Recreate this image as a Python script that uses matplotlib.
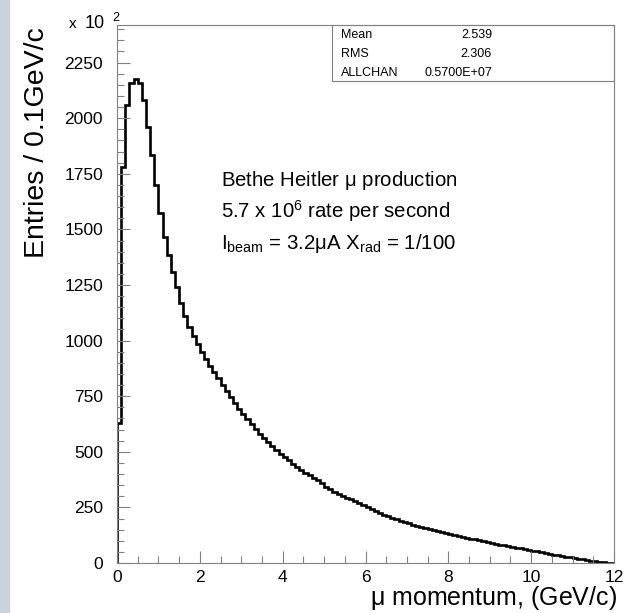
import numpy as np
import matplotlib.pyplot as plt
from matplotlib.ticker import MultipleLocator
from matplotlib.patches import Rectangle

plt.rcParams['font.family'] = ['Liberation Sans', 'DejaVu Sans']
plt.rcParams['mathtext.fontset'] = 'custom'
plt.rcParams['mathtext.rm'] = 'Liberation Sans'
plt.rcParams['mathtext.it'] = 'Liberation Sans'
plt.rcParams['mathtext.default'] = 'regular'

# histogram of muon momentum, 0.1 GeV/c bins from 0 to 12 (entries x 100)
bin_edges = np.arange(0, 12.05, 0.1)
entries = [
    630, 1782, 2059, 2157, 2175, 2157, 2082, 1959, 1835, 1700,
    1572, 1467, 1385, 1310, 1240, 1170, 1110, 1062, 1020, 985,
    950, 918, 888, 858, 830, 800, 772, 745, 719, 694,
    670, 647, 625, 603, 582, 562, 543, 525, 508, 491,
    476, 461, 446, 432, 419, 406, 394, 382, 371, 360,
    342, 331, 320, 311, 302, 294, 286, 278, 270, 262,
    252, 243, 234, 226, 218, 211, 204, 197, 190, 184,
    178, 172, 167, 162, 157, 152, 147, 142, 138, 134,
    130, 126, 122, 118, 114, 110, 106, 102, 98, 94,
    90, 87, 83, 80, 76, 73, 69, 66, 62, 59,
    55, 52, 48, 45, 42, 38, 35, 32, 28, 25,
    22, 19, 16, 13, 10, 8, 6, 4, 2, 1,
]

stat_names = ['Mean', 'RMS', 'ALLCHAN']
stat_values = ['2.539', '2.306', '0.5700E+07']

info_lines = [
    r'Bethe Heitler $\mu$ production',
    r'5.7 x 10$^{6}$ rate per second',
    r'I$_{beam}$ = 3.2$\mu$A X$_{rad}$ = 1/100',
]

fig = plt.figure(figsize=(6.33, 6.13), dpi=100)
fig.patches.append(Rectangle((0, 0), 9 / 633, 1, transform=fig.transFigure,
                             color='#c8d3dc', zorder=0))

ax = fig.add_axes([117 / 633, 1 - 563 / 613, 497 / 633, 538 / 613])
ax.stairs(entries, bin_edges, color='black', linewidth=1.9)

ax.set_xlim(0, 12)
ax.set_ylim(0, 2419)
ax.xaxis.set_major_locator(MultipleLocator(2))
ax.xaxis.set_minor_locator(MultipleLocator(0.5))
ax.yaxis.set_major_locator(MultipleLocator(250))
ax.yaxis.set_minor_locator(MultipleLocator(50))
ax.tick_params(which='both', direction='in', color='#808080', width=0.8,
               top=False, right=False, labelsize=12.5)
ax.tick_params(which='major', length=9)
ax.tick_params(which='minor', length=5)
ax.tick_params(axis='y', pad=10)
ax.tick_params(axis='x', pad=5)
for s in ax.spines.values():
    s.set_color('#808080')
    s.set_linewidth(0.8)

fig.text(37 / 633, 1 - 27 / 613, 'Entries / 0.1GeV/c', rotation=90,
         ha='center', va='top', fontsize=20.5)
fig.text(617 / 633, 1 - 598 / 613, r'$\mu$ momentum, (GeV/c)',
         ha='right', va='center', fontsize=18)
fig.text(69 / 633, 1 - 24 / 613, 'x', ha='left', va='center', fontsize=11)
fig.text(85 / 633, 1 - 23 / 613, '10', ha='left', va='center', fontsize=13)
fig.text(112 / 633, 1 - 18 / 613, '2', ha='left', va='center', fontsize=9)

# statistics box in the upper right corner
ax.add_patch(Rectangle((332 / 633, 1 - 81 / 613), 282 / 633, 56 / 613,
                       transform=fig.transFigure, fill=False,
                       edgecolor='#808080', linewidth=0.8, clip_on=False))
for i, (name, val) in enumerate(zip(stat_names, stat_values)):
    yy = 1 - (35 + 19 * i) / 613
    fig.text(341 / 633, yy, name, ha='left', va='center', fontsize=9)
    fig.text(492 / 633, yy, val, ha='right', va='center', fontsize=9)

for i, line in enumerate(info_lines):
    fig.text(221 / 633, 1 - (180 + 31.5 * i) / 613, line,
             ha='left', va='center', fontsize=14.7)

fig.savefig('out.png', dpi=100)
